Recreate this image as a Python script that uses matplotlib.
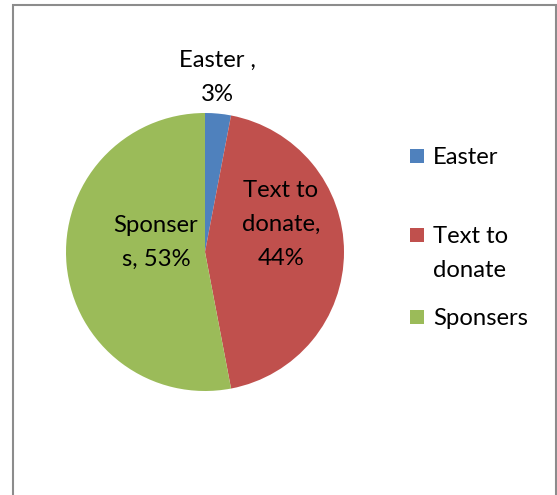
import matplotlib
matplotlib.use("Agg")
import matplotlib.pyplot as plt
from matplotlib.patches import Rectangle

categories = ["Easter", "Text to donate", "Sponsers"]
values = [3, 44, 53]
legend_labels = ["Easter", "Text to\ndonate", "Sponsers"]
data_labels = ["Easter ,\n3%", "Text to\ndonate,\n44%", "Sponser\ns, 53%"]
colors = ["#4F81BD", "#C0504D", "#9BBB59"]

W, H = 557, 495
plt.rcParams['font.family'] = ['Lato', 'DejaVu Sans']
fig = plt.figure(figsize=(W / 100, H / 100), dpi=100)
fig.patch.set_facecolor("white")

def fx(px):
    return px / W

def fy(py):
    return 1 - py / H

# chart border
fig.patches.append(Rectangle((fx(13), fy(505)), fx(556) - fx(13), fy(5) - fy(505),
                             transform=fig.transFigure, fill=False,
                             edgecolor="#8c8c8c", linewidth=1.5))

cx, cy, r = 205, 252, 139
ax = fig.add_axes([fx(cx - r), fy(cy + r), 2 * r / W, 2 * r / H])
wedges, _ = ax.pie(values, colors=colors, startangle=90, counterclock=False,
                   radius=1.0, wedgeprops=dict(linewidth=0))
ax.set_xlim(-1, 1)
ax.set_ylim(-1, 1)
ax.set_aspect("equal")
ax.axis("off")

fs = 17.2
lh = 34
# data labels (center x, baseline of first line)
label_pos = [(217, 67), (281, 197), (156, 232)]
for text, (x, yb) in zip(data_labels, label_pos):
    for i, line in enumerate(text.split("\n")):
        fig.text(fx(x), fy(yb + lh * i), line, ha="center", va="baseline",
                 fontsize=fs, color="black")

# legend
leg_base = [164, 243, 325]
for lab, col, yb in zip(legend_labels, colors, leg_base):
    fig.patches.append(Rectangle((fx(410), fy(yb - 1)), 14 / W, 14 / H,
                                 transform=fig.transFigure, facecolor=col,
                                 edgecolor="none"))
    for i, line in enumerate(lab.split("\n")):
        fig.text(fx(433), fy(yb + lh * i), line, ha="left", va="baseline",
                 fontsize=fs, color="black")

fig.savefig("out.png", dpi=100, facecolor="white")
